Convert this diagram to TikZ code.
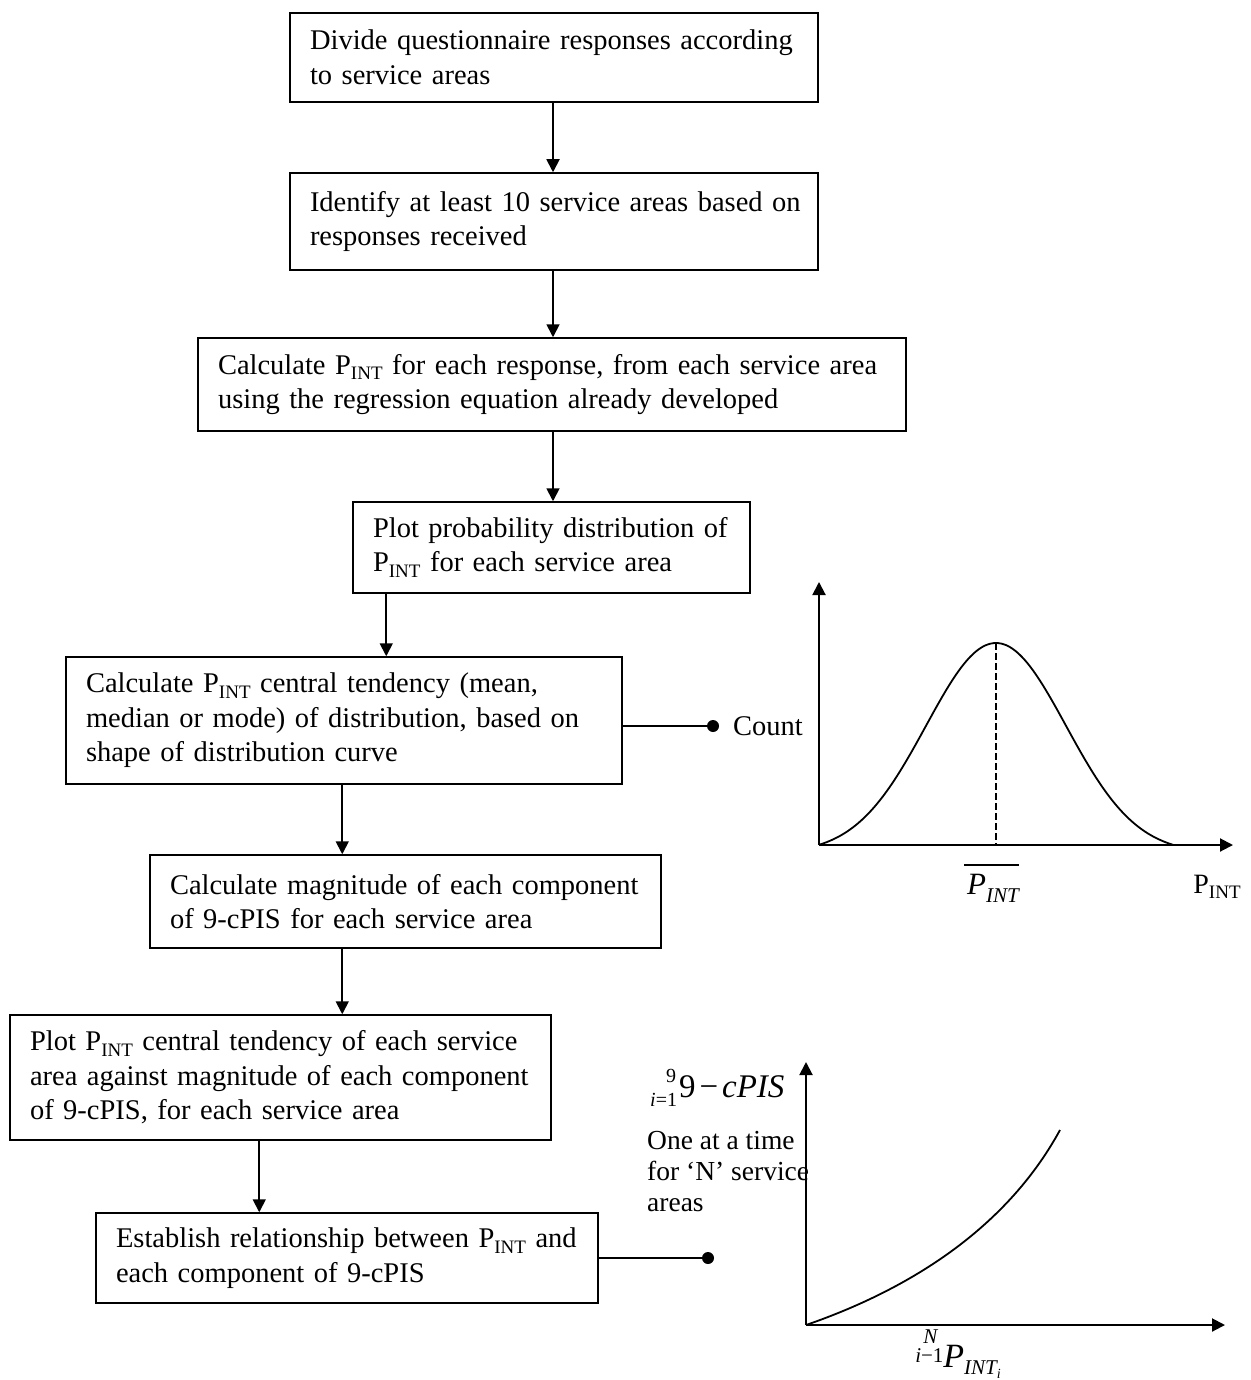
\documentclass[tikz,border=0pt]{standalone}
\usepackage{fontspec}
\setmainfont{Liberation Serif}
\usetikzlibrary{arrows.meta}

% font size helper and the P_INT symbol used in the step texts
\newcommand\fsz[1]{\fontsize{#1}{#1}\selectfont}
\newcommand\Pint{P\raisebox{-0.2em}{\fsz{19}INT}}

\begin{document}
\begin{tikzpicture}[x=1pt,y=-1pt,
  stepbox/.style={draw, line width=1.5pt, rectangle, inner xsep=20pt, inner ysep=4pt,
    align=left, font=\fontsize{28.5}{34.5}\selectfont},
  arr/.style={line width=1.8pt, -{Triangle[length=13pt,width=13pt]}},
  link/.style={line width=1.8pt},
  axis/.style={line width=2pt, -{Triangle[length=13pt,width=13pt]}},
  lbl/.style={inner sep=0pt, align=left}]

\useasboundingbox (0,0) rectangle (1250,1380);

% ---------------- process steps ----------------
\node[stepbox, minimum width=528pt, minimum height=89pt, text width=488pt] (b1) at (554,57.5)
  {\mbox{Divide questionnaire responses according}\\to service areas};
\node[stepbox, minimum width=528pt, minimum height=97pt, text width=488pt] (b2) at (554,221.5)
  {\mbox{Identify at least 10 service areas based on}\\responses received};
\node[stepbox, minimum width=708pt, minimum height=93pt, text width=668pt] (b3) at (552,384.5)
  {\mbox{Calculate \Pint{} for each response, from each service area}\\\mbox{using the regression equation already developed}};
\node[stepbox, minimum width=397pt, minimum height=91pt, text width=357pt] (b4) at (551.5,547.5)
  {\mbox{Plot probability distribution of}\\\Pint{} for each service area};
\node[stepbox, minimum width=556pt, minimum height=127pt, text width=516pt] (b5) at (344,720.5)
  {\mbox{Calculate \Pint{} central tendency (mean,}\\\mbox{median or mode) of distribution, based on}\\shape of distribution curve};
\node[stepbox, minimum width=511pt, minimum height=93pt, text width=471pt] (b6) at (405.5,901.5)
  {\mbox{Calculate magnitude of each component}\\of 9-cPIS for each service area};
\node[stepbox, minimum width=541pt, minimum height=125pt, text width=501pt] (b7) at (280.5,1077.5)
  {\mbox{Plot \Pint{} central tendency of each service}\\\mbox{area against magnitude of each component}\\of 9-cPIS, for each service area};
\node[stepbox, minimum width=502pt, minimum height=90pt, text width=462pt] (b8) at (347,1258)
  {\mbox{Establish relationship between \Pint{} and}\\each component of 9-cPIS};

% ---------------- flow arrows ----------------
\draw[arr] ([xshift=-1pt]b1.south) -- ([xshift=-1pt]b1.south |- b2.north);
\draw[arr] ([xshift=-1pt]b2.south) -- ([xshift=-1pt]b2.south |- b3.north);
\draw[arr] ([xshift=1pt]b3.south) -- ([xshift=1pt]b3.south |- b4.north);
\draw[arr] ([xshift=34pt]b4.south west) -- ([xshift=34pt]b4.south west |- b5.north);
\draw[arr] ([xshift=277pt]b5.south west) -- ([xshift=277pt]b5.south west |- b6.north);
\draw[arr] ([xshift=193pt]b6.south west) -- ([xshift=193pt]b6.south west |- b7.north);
\draw[arr] ([xshift=250pt]b7.south west) -- ([xshift=250pt]b7.south west |- b8.north);

% ---------------- links to the plots ----------------
\coordinate (d1) at (713,726);
\coordinate (d2) at (708,1258);
\draw[link] (b5.east |- d1) -- (d1);
\fill (d1) circle (6pt);
\draw[link] (b8.east |- d2) -- (d2);
\fill (d2) circle (6pt);

% ---------------- distribution plot ----------------
\node[lbl, anchor=west, font=\fsz{28.5}] (count) at (733,726) {Count};
\coordinate (o1) at (819,845);
\draw[axis] (o1) -- (819,582);
\draw[axis] (o1) -- (1233,845);
\draw[line width=1.8pt] plot[domain=819:1173, samples=90, smooth]
  (\x, {845 - 202*(exp(-((\x-996)/70)^2/2) - 0.04)/0.96});
\draw[line width=1.8pt, dash pattern=on 7pt off 3pt] (996,643) -- (996,845);
\node[inner sep=0pt, anchor=north] (pbar) at (993,874)
  {\fsz{31}\itshape P\raisebox{-8pt}{\fsz{21}INT}};
\draw[line width=1.3pt] ([yshift=9pt,xshift=-3pt]pbar.north west) -- ([yshift=9pt]pbar.north east);
\node[inner sep=0pt, font=\fsz{28}] (pint) at (1217,887) {\Pint};

% ---------------- relationship plot ----------------
\coordinate (o2) at (806,1325);
\draw[axis] (o2) -- (806,1062);
\draw[axis] (o2) -- (1225,1325);
\draw[line width=1.8pt] (o2) .. controls (890,1296) and (1000,1240) .. (1060,1130);
\node[inner sep=0pt, anchor=west] (ylab) at (650,1088)
  {\fsz{20}\rlap{\hspace{16pt}\raisebox{15pt}{9}}\raisebox{-9pt}{\itshape i\upshape =1}\kern2pt%
   \fsz{33}9\kern4pt−\kern4pt{\itshape cPIS}};
\node[lbl, anchor=north west, font=\fontsize{27.5}{31}\selectfont] (note) at (647,1131)
  {One at a time\\for ‘N’ service\\areas};
\node[inner sep=0pt] (xlab) at (958,1354)
  {\fsz{21}\rlap{\hspace{8pt}\raisebox{24pt}{\itshape N}}\raisebox{5pt}{\itshape i\upshape −1}%
   \fsz{34}\itshape P\raisebox{-7pt}{\fsz{21}INT\raisebox{-4pt}{\fsz{14}i}}};

\end{tikzpicture}
\end{document}
